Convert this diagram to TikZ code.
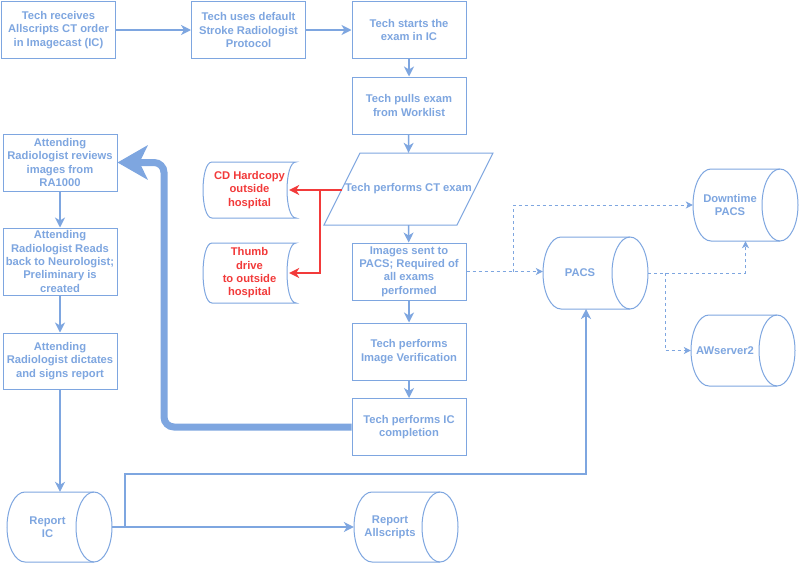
\documentclass[tikz,border=0pt]{standalone}
\usepackage{fontspec}
\setmainfont{Liberation Sans}
\usetikzlibrary{arrows.meta,calc}
\definecolor{bl}{HTML}{7EA6E0}
\definecolor{rd}{HTML}{F23A3A}
\newcommand\mycyl[4]{%
  \draw[shapeline,fill=white] ({#1+18},#2) -- ({#3-18},#2) arc[start angle=-90,end angle=90,x radius=18,y radius={(#4-#2)/2}] -- ({#1+18},#4) arc[start angle=90,end angle=270,x radius=18,y radius={(#4-#2)/2}] -- cycle;
  \draw[shapeline] ({#3-18},#2) arc[start angle=-90,end angle=-270,x radius=18,y radius={(#4-#2)/2}];
}
\newcommand\mystore[4]{%
  \draw[shapeline,fill=white] ({#1+9},#2) -- (#3,#2) .. controls ({#3-12},#2) and ({#3-12},#4) .. (#3,#4) -- ({#1+9},#4) .. controls ({#1-3},#4) and ({#1-3},#2) .. ({#1+9},#2) -- cycle;
}
\begin{document}
\begin{tikzpicture}[x=1pt,y=-1pt,
  txtfont/.style={font=\fontsize{11.2}{13.3}\selectfont\bfseries},
  box/.style={draw=bl, line width=1pt, fill=white, inner sep=0pt, align=center, minimum width=114pt, minimum height=57pt, text=bl, txtfont},
  shapeline/.style={draw=bl, line width=1pt},
  ghost/.style={inner sep=0pt, minimum width=105pt, minimum height=72pt},
  txt/.style={inner sep=0pt, align=center, text=bl, txtfont},
  rtxt/.style={inner sep=0pt, align=center, text=rd, txtfont, minimum width=93pt},
  arr/.style={draw=bl, line width=1.5pt, -{Stealth[length=10pt,width=10pt,inset=3pt]}},
  darr/.style={draw=bl, line width=1pt, dash pattern=on 3pt off 3pt, -{Stealth[length=7pt,width=7pt,inset=2pt]}},
  thk/.style={draw=bl, line width=7pt, rounded corners=10pt, -{Stealth[length=30pt,width=34pt,inset=8pt]}},
  rarr/.style={draw=rd, line width=2pt, -{Stealth[length=10pt,width=10pt,inset=3pt]}}
]
\fill[white] (0,0) rectangle (800,565);
\useasboundingbox (0,0) rectangle (800,565);

% main column
\node[box] (A) at (58.5,30) {Tech receives\\Allscripts CT order\\in Imagecast (IC)};
\node[box] (B) at (248.5,30) {Tech uses default\\Stroke Radiologist\\Protocol};
\node[box] (C) at (409,30) {Tech starts the\\exam in IC};
\node[box] (D) at (409,105.5) {Tech pulls exam\\from Worklist};
\draw[shapeline,fill=white] (360,153) -- (493,153) -- (457,225) -- (324,225) -- cycle;
\node[txt, minimum height=72pt] (ct) at (408.5,189) {Tech performs CT exam};
\node[box] (E) at (409,271.5) {Images sent to\\PACS; Required of\\all exams\\performed};
\node[box] (F) at (409,351.5) {Tech performs\\Image Verification};
\node[box] (G) at (409,427) {Tech performs IC\\completion};

% left column
\node[box] (L1) at (60,162.5) {Attending\\Radiologist reviews\\images from\\RA1000};
\node[box, minimum height=67pt] (L2) at (60,261.5) {Attending\\Radiologist Reads\\back to Neurologist;\\Preliminary is\\created};
\node[box, minimum height=56pt] (L3) at (60,361) {Attending\\Radiologist dictates\\and signs report};

% red stored data shapes
\mystore{203}{162}{296}{218}
\node[rtxt, minimum height=56pt] (cd) at (249.5,190) {CD Hardcopy\\outside\\hospital};
\mystore{203}{243}{296}{303}
\node[rtxt, minimum height=60pt] (thumb) at (249.5,273) {Thumb\\drive\\to outside\\hospital};

% cylinders
\mycyl{543}{237}{648}{309}
\node[ghost] (pacs) at (595.5,273) {};
\node[txt] (pacst) at (580,273) {PACS};
\mycyl{693}{169}{798}{241}
\node[ghost] (dt) at (745.5,205) {};
\node[txt] (dtt) at (730,205) {Downtime\\PACS};
\mycyl{691}{315}{795}{386}
\node[ghost, minimum width=104pt, minimum height=71pt] (aw) at (743,350.5) {};
\node[txt] (awt) at (725,350.5) {AWserver2};
\mycyl{7}{492}{112}{562}
\node[ghost, minimum height=70pt] (ric) at (59.5,527) {};
\node[txt] (rict) at (47.5,527) {Report\\IC};
\mycyl{354}{492}{458}{562}
\node[ghost, minimum width=104pt, minimum height=70pt] (ras) at (406,527) {};
\node[txt] (rast) at (390,527) {Report\\Allscripts};

% connectors
\draw[arr] (A) -- (B);
\draw[arr] (B) -- (C);
\draw[arr] (C) -- (D);
\draw[arr] (D) -- (ct.north);
\draw[arr] (ct.south) -- (E);
\draw[arr] (E) -- (F);
\draw[arr] (F) -- (G);
\draw[arr] (L1) -- (L2);
\draw[arr] (L2) -- (L3);
\draw[arr] (L3.south) -- (L3.south |- ric.north);

\draw[thk] (G.west) -| (164,162.5) -- (L1.east);

\coordinate (ctw) at (342,190);
\coordinate (rj) at (320,190);
\draw[rarr] (ctw) -- ($(cd.east)+(-7,0)$);
\draw[rarr] (rj) |- ($(thumb.east)+(-7,0)$);

\draw[darr] (E.east) -- (E.east -| pacs.west);
\coordinate (j1) at (513,271.5);
\draw[darr] (j1) |- (dt.west);
\draw[darr] (pacs.east) -| (dt.south);
\coordinate (j2) at (665,273);
\draw[darr] (j2) |- (aw.west);

\draw[arr] (ric.east) -- (ras.west);
\coordinate (j3) at (125,527);
\coordinate (pb) at (586,309);
\draw[arr] (j3) -- (125,474) -| (pb);
\end{tikzpicture}
\end{document}
